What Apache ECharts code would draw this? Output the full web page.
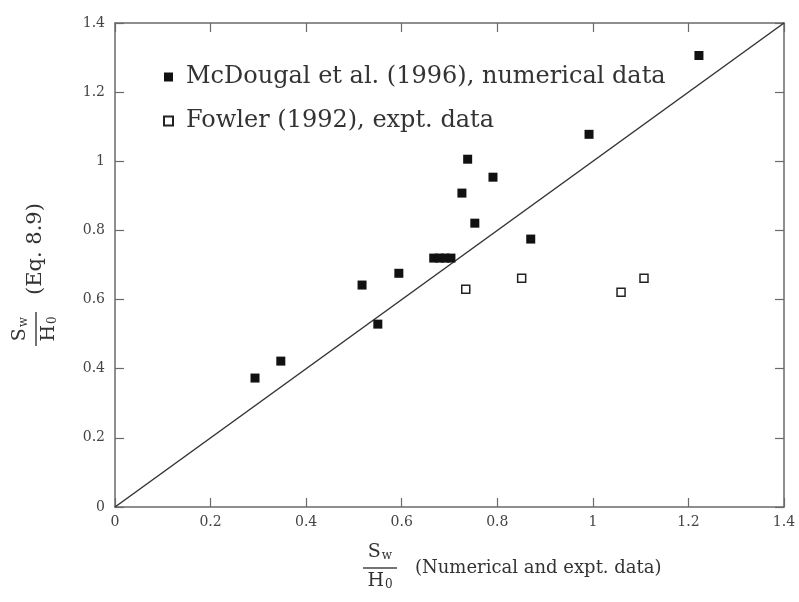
<!DOCTYPE html>
<html><head><meta charset="utf-8">
<script src="https://cdn.jsdelivr.net/npm/echarts@6/dist/echarts.min.js"></script>
<style>html,body{margin:0;padding:0;background:#fff}#c{width:799px;height:602px}</style>
</head><body><div id="c"></div>
<script>
const mcX = [0.293, 0.347, 0.517, 0.550, 0.594, 0.667, 0.679, 0.691, 0.703, 0.726, 0.738, 0.753, 0.791, 0.870, 0.992, 1.222];
const mcY = [0.373, 0.422, 0.642, 0.529, 0.676, 0.720, 0.720, 0.720, 0.720, 0.908, 1.006, 0.821, 0.954, 0.775, 1.078, 1.306];
const fowX = [0.734, 0.851, 1.059, 1.107];
const fowY = [0.630, 0.662, 0.621, 0.662];
const lineX = [0, 1.4];
const lineY = [0, 1.4];
const seriesNames = ['McDougal et al. (1996), numerical data', 'Fowler (1992), expt. data'];

const FONT = 'DejaVu Serif';
const chart = echarts.init(document.getElementById('c'));
const axisCommon = {
  type: 'value', min: 0, max: 1.4, interval: 0.2,
  axisLine: {show: true, onZero: false, lineStyle: {color: '#6a6a6a', width: 1.5}},
  axisTick: {show: true, inside: true, length: 9, lineStyle: {color: '#6a6a6a', width: 1.2}},
  splitLine: {show: false}
};
const labelStyle = {color: '#444', fontFamily: FONT, fontSize: 14};
const zip = (a, b) => a.map((v, i) => [v, b[i]]);
const fracRich = {
  s: {fontFamily: FONT, fontSize: 19, fill: '#333'},
  w: {fontFamily: FONT, fontSize: 12, fill: '#333', verticalAlign: 'bottom', padding: [0, 0, 0, 1]},
  o: {fontFamily: FONT, fontSize: 12, fill: '#333', verticalAlign: 'bottom', padding: [8, 0, 0, 1]}
};
function fraction(extra, extraSize, extraX) {
  return [
    {type: 'text', x: 0, y: -6, style: {text: '{s|S}{w|w}', align: 'center', verticalAlign: 'bottom', rich: fracRich}},
    {type: 'line', shape: {x1: -17, y1: 0, x2: 17, y2: 0}, style: {stroke: '#444', lineWidth: 1.5}},
    {type: 'text', x: 0, y: 3, style: {text: '{s|H}{o|0}', align: 'center', verticalAlign: 'top', rich: fracRich}},
    {type: 'text', x: extraX, y: 0, style: {text: extra, fontFamily: FONT, fontSize: extraSize, fill: '#333', align: 'left', verticalAlign: 'middle'}}
  ];
}

chart.setOption({
  animation: false,
  grid: {left: 115, right: 15, top: 23, bottom: 95},
  xAxis: [
    Object.assign({}, axisCommon, {position: 'bottom', axisLabel: Object.assign({margin: 8}, labelStyle)}),
    Object.assign({}, axisCommon, {position: 'top', axisLabel: {show: false}})
  ],
  yAxis: [
    Object.assign({}, axisCommon, {position: 'left', axisLabel: Object.assign({margin: 10}, labelStyle)}),
    Object.assign({}, axisCommon, {position: 'right', axisLabel: {show: false}})
  ],
  legend: {
    orient: 'vertical', left: 158, top: 60, itemGap: 20,
    itemWidth: 9, itemHeight: 9,
    textStyle: {fontFamily: FONT, fontSize: 24, color: '#333', padding: [0, 0, 0, 8]},
    data: seriesNames.map(n => ({name: n, icon: 'rect'}))
  },
  series: [
    {
      type: 'line', data: zip(lineX, lineY), showSymbol: false, symbol: 'none',
      lineStyle: {color: '#333', width: 1.5}, silent: true, z: 1
    },
    {
      name: seriesNames[0], type: 'scatter', data: zip(mcX, mcY),
      symbol: 'rect', symbolSize: 9,
      itemStyle: {color: '#111', borderColor: '#111', borderWidth: 0, opacity: 1}, z: 3
    },
    {
      name: seriesNames[1], type: 'scatter', data: zip(fowX, fowY),
      symbol: 'rect', symbolSize: 8,
      itemStyle: {color: '#fff', borderColor: '#222', borderWidth: 1.5, opacity: 1}, z: 3
    }
  ],
  graphic: [
    {type: 'group', x: 380, y: 568, children: fraction('(Numerical and expt. data)', 18, 35)},
    {type: 'group', x: 36, y: 329, rotation: Math.PI / 2, children: fraction('(Eq. 8.9)', 21, 34)}
  ]
});
</script></body></html>
